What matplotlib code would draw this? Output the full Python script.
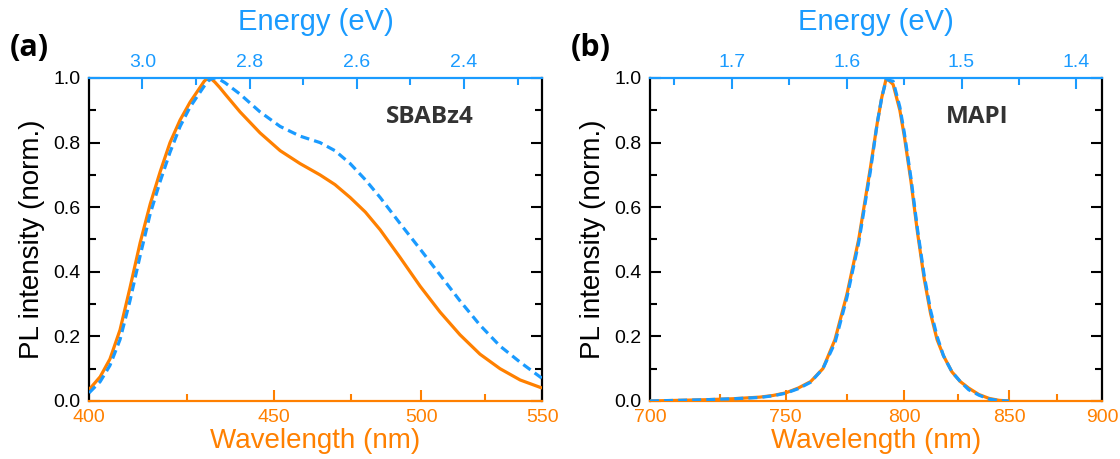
import numpy as np
import matplotlib
matplotlib.use('Agg')
import matplotlib.pyplot as plt
from matplotlib.ticker import FixedLocator, MultipleLocator

HC = 1239.84

# ---- data (wavelength in nm, normalised PL intensity) ----
sbabz4_wl = [400, 402.7, 405.1, 407.6, 410.1, 412.7, 415.3, 417.9, 420.5, 423.2,
             425.9, 428.6, 429.8, 430.8, 431.8, 432.8, 434.2, 435.7, 440.0, 445.9,
             452.0, 458.2, 464.6, 469.5, 474.6, 479.8, 485.0, 492.1, 499.6, 507.2,
             515.0, 523.1, 531.5, 540.2, 550]
sbabz4_orange = [0.035, 0.075, 0.13, 0.22, 0.35, 0.49, 0.61, 0.71, 0.80, 0.87,
                 0.925, 0.97, 0.99, 1.0, 0.997, 0.987, 0.97, 0.95, 0.895, 0.83,
                 0.775, 0.735, 0.70, 0.67, 0.63, 0.585, 0.53, 0.445, 0.355, 0.275,
                 0.205, 0.145, 0.10, 0.065, 0.04]
sbabz4_blue = [0.025, 0.06, 0.11, 0.19, 0.31, 0.45, 0.58, 0.68, 0.77, 0.85,
               0.91, 0.955, 0.975, 0.99, 0.997, 1.0, 0.995, 0.985, 0.95, 0.895,
               0.85, 0.82, 0.80, 0.775, 0.735, 0.685, 0.63, 0.55, 0.47, 0.39,
               0.31, 0.235, 0.17, 0.12, 0.07]

mapi_wl = [700, 710, 720, 730, 740, 745, 750, 755, 760, 765, 770, 775, 780, 785,
           788, 790, 792, 795, 798, 800, 803, 806, 809, 812, 815, 818, 822, 826,
           830, 835, 840, 845, 850]
mapi_orange = [0.0, 0.002, 0.004, 0.007, 0.012, 0.017, 0.025, 0.04, 0.06, 0.10,
               0.19, 0.33, 0.50, 0.72, 0.86, 0.94, 1.0, 0.98, 0.90, 0.82, 0.68,
               0.52, 0.38, 0.27, 0.19, 0.14, 0.09, 0.06, 0.04, 0.02, 0.008,
               0.002, 0.0]
mapi_blue = [0.0, 0.002, 0.004, 0.007, 0.011, 0.016, 0.024, 0.038, 0.058, 0.10,
             0.18, 0.32, 0.49, 0.71, 0.86, 0.94, 0.995, 0.99, 0.91, 0.83, 0.69,
             0.53, 0.39, 0.28, 0.20, 0.14, 0.09, 0.06, 0.035, 0.018, 0.006,
             0.001, 0.0]

sbabz4_wl_range = (400, 550)
sbabz4_wl_major = [400, 450, 500, 550]
sbabz4_wl_minor = [425, 475, 525]
sbabz4_e_major = [3.0, 2.8, 2.6, 2.4]
sbabz4_e_minor = [2.9, 2.7, 2.5, 2.3]

mapi_wl_range = (700, 900)
mapi_wl_major = [700, 750, 800, 850, 900]
mapi_wl_minor = [725, 775, 825, 875]
mapi_e_major = [1.7, 1.6, 1.5, 1.4]
mapi_e_minor = [1.75, 1.65, 1.55, 1.45]

ORANGE = '#FF8000'
BLUE = '#1A9BFF'
DARK = '#333333'

plt.rcParams['font.family'] = ['Liberation Sans', 'DejaVu Sans']

fig = plt.figure(figsize=(11.2, 4.59), dpi=100)


def fwd(x):
    return -HC / np.asarray(x, dtype=float)


def inv(y):
    return -HC / np.asarray(y, dtype=float)


def panel(rect, wl, y_or, y_bl, wl_range, wl_major, wl_minor, e_major, e_minor,
          name, letter):
    ax = fig.add_axes(rect)
    ax.set_xscale('function', functions=(fwd, inv))
    ax.plot(wl, y_or, color=ORANGE, lw=2.3, solid_capstyle='butt',
            solid_joinstyle='round', zorder=3)
    ax.plot(wl, y_bl, color=BLUE, lw=2.3, dashes=(2.8, 1.6), zorder=4)
    ax.set_xlim(*wl_range)
    ax.set_ylim(0, 1.0)
    ax.xaxis.set_major_locator(FixedLocator(wl_major))
    ax.xaxis.set_minor_locator(FixedLocator(wl_minor))
    ax.set_xticklabels([str(v) for v in wl_major])
    ax.yaxis.set_major_locator(MultipleLocator(0.2))
    ax.yaxis.set_minor_locator(MultipleLocator(0.1))
    ax.yaxis.set_major_formatter(plt.FuncFormatter(lambda v, p: f'{v:.1f}'))
    ax.tick_params(axis='x', which='both', direction='in', colors=ORANGE,
                   labelsize=14, pad=6, width=1.5)
    ax.tick_params(axis='x', which='major', length=8)
    ax.tick_params(axis='x', which='minor', length=5)
    ax.tick_params(axis='y', which='both', direction='in', left=True, right=True,
                   labelsize=14, pad=6, width=1.5, colors='black')
    ax.tick_params(axis='y', which='major', length=8)
    ax.tick_params(axis='y', which='minor', length=5)
    for s in ('left', 'right'):
        ax.spines[s].set_color('black')
        ax.spines[s].set_linewidth(1.6)
    ax.spines['bottom'].set_color(ORANGE)
    ax.spines['bottom'].set_linewidth(1.6)
    ax.spines['top'].set_visible(False)
    ax.set_xlabel('Wavelength (nm)', color=ORANGE, fontsize=20, labelpad=1)
    ax.set_ylabel('PL intensity (norm.)', color='black', fontsize=20, labelpad=6)

    top = ax.twiny()
    top.set_xlim(HC / wl_range[0], HC / wl_range[1])
    top.xaxis.set_major_locator(FixedLocator(e_major))
    top.xaxis.set_minor_locator(FixedLocator(e_minor))
    top.xaxis.set_major_formatter(plt.FuncFormatter(lambda v, p: f'{v:.1f}'))
    top.tick_params(axis='x', which='both', direction='in', colors=BLUE,
                    labelsize=14, pad=5, width=1.5)
    top.tick_params(axis='x', which='major', length=8)
    top.tick_params(axis='x', which='minor', length=5)
    for s in ('left', 'right', 'bottom'):
        top.spines[s].set_visible(False)
    top.spines['top'].set_color(BLUE)
    top.spines['top'].set_linewidth(1.6)
    top.set_xlabel('Energy (eV)', color=BLUE, fontsize=21, labelpad=17)

    ax.text(0.655, 0.88, name, transform=ax.transAxes, fontsize=17.5,
            fontweight='bold', family=['Open Sans', 'DejaVu Sans'], color=DARK,
            ha='left', va='center')
    fig.text(rect[0] - 0.071, 0.895, letter, fontsize=22, fontweight='bold',
             family=['Open Sans', 'DejaVu Sans'], color='black',
             ha='left', va='center')
    return ax


panel([0.0795, 0.1264, 0.4045, 0.7037], sbabz4_wl, sbabz4_orange, sbabz4_blue,
      sbabz4_wl_range, sbabz4_wl_major, sbabz4_wl_minor, sbabz4_e_major,
      sbabz4_e_minor, 'SBABz4', '(a)')
panel([0.5804, 0.1264, 0.4036, 0.7037], mapi_wl, mapi_orange, mapi_blue,
      mapi_wl_range, mapi_wl_major, mapi_wl_minor, mapi_e_major,
      mapi_e_minor, 'MAPI', '(b)')

fig.savefig('out.png', dpi=100)
